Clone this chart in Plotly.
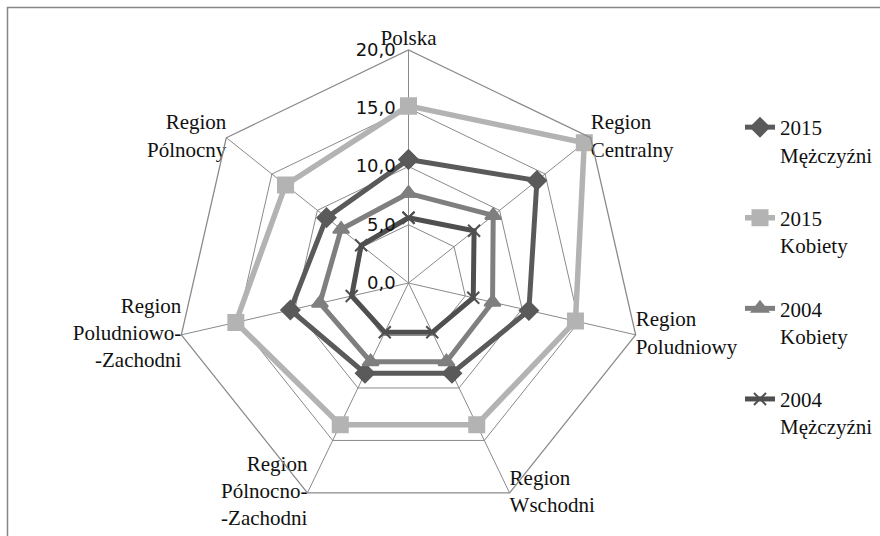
import plotly.graph_objects as go

categories = ["Polska", "Region<br>Centralny", "Region<br>Poludniowy", "Region<br>Wschodni",
              "Region<br>Pólnocno-<br>-Zachodni", "Region<br>Poludniowo-<br>-Zachodni", "Region<br>Pólnocny"]

m2015 = [10.6, 14.1, 10.6, 8.6, 8.6, 10.4, 9.0]
k2015 = [15.2, 19.3, 14.7, 13.5, 13.5, 15.2, 13.5]
k2004 = [7.7, 9.3, 7.4, 7.5, 7.5, 7.8, 7.4]
m2004 = [5.6, 7.2, 5.7, 4.7, 4.7, 5.0, 5.2]

tick_vals = [0, 5, 10, 15, 20]
tick_text = ["0,0", "5,0", "10,0", "15,0", "20,0"]

# placement of the category labels at the outer polygon
label_r = [20, 20, 20, 20, 20, 20, 20]
label_pos = ["top center", "middle right", "middle right", "middle right",
             "middle left", "middle left", "middle left"]

series = [
    ("2015<br>Mężczyźni", m2015, "#5a5a5a", "diamond", 14, 5),
    ("2015<br>Kobiety", k2015, "#b3b3b3", "square", 15, 5.5),
    ("2004<br>Kobiety", k2004, "#7f7f7f", "triangle-up", 14, 5),
    ("2004<br>Mężczyźni", m2004, "#4f4f4f", "x-thin", 12, 5),
]

fig = go.Figure()
for i, (name, vals, color, sym, size, lw) in enumerate(series):
    fig.add_trace(go.Scatterpolar(
        r=vals + vals[:1],
        theta=categories + categories[:1],
        mode="lines+markers",
        name=name,
        legendgroup="g%d" % i,
        line=dict(color=color, width=lw),
        marker=dict(symbol=sym, size=size, color=color,
                    line=dict(color=color, width=2)),
    ))

fig.add_trace(go.Scatterpolar(
    r=label_r, theta=categories, mode="text", text=categories,
    textposition=label_pos, showlegend=False, hoverinfo="skip", cliponaxis=False,
    textfont=dict(family="Liberation Serif", size=21, color="#111111"),
))

W, H = 880, 536
cx, cy, R = 408.5, 283, 233
fig.update_layout(
    width=W, height=H,
    margin=dict(l=0, r=0, t=0, b=0),
    paper_bgcolor="white",
    plot_bgcolor="white",
    showlegend=True,
    legend=dict(
        x=740 / W, y=1 - 107 / H, xanchor="left", yanchor="top",
        font=dict(family="Liberation Serif", size=21, color="#111111"),
        valign="top", tracegroupgap=33, bgcolor="rgba(0,0,0,0)",
    ),
    polar=dict(
        domain=dict(x=[(cx - R) / W, (cx + R) / W], y=[(H - cy - R) / H, (H - cy + R) / H]),
        bgcolor="white",
        gridshape="linear",
        radialaxis=dict(
            range=[0, 20], tickvals=tick_vals, ticktext=tick_text,
            angle=90, tickangle=90, side="counterclockwise",
            showline=False, ticks="outside", ticklen=6, tickcolor="rgba(0,0,0,0)",
            gridcolor="#8a8a8a", gridwidth=1.3,
            tickfont=dict(family="DejaVu Sans", size=18, color="#111111"),
        ),
        angularaxis=dict(
            rotation=90, direction="clockwise",
            showline=True, linecolor="#8a8a8a", linewidth=1.3,
            gridcolor="#8a8a8a", gridwidth=1.3, ticks="",
            showticklabels=False,
        ),
    ),
    shapes=[dict(type="rect", xref="paper", yref="paper",
                 x0=7.5 / W, x1=1.02, y0=-0.02, y1=1 - 7.5 / H,
                 line=dict(color="#868686", width=1.5))],
)

fig.write_html("out.html")
